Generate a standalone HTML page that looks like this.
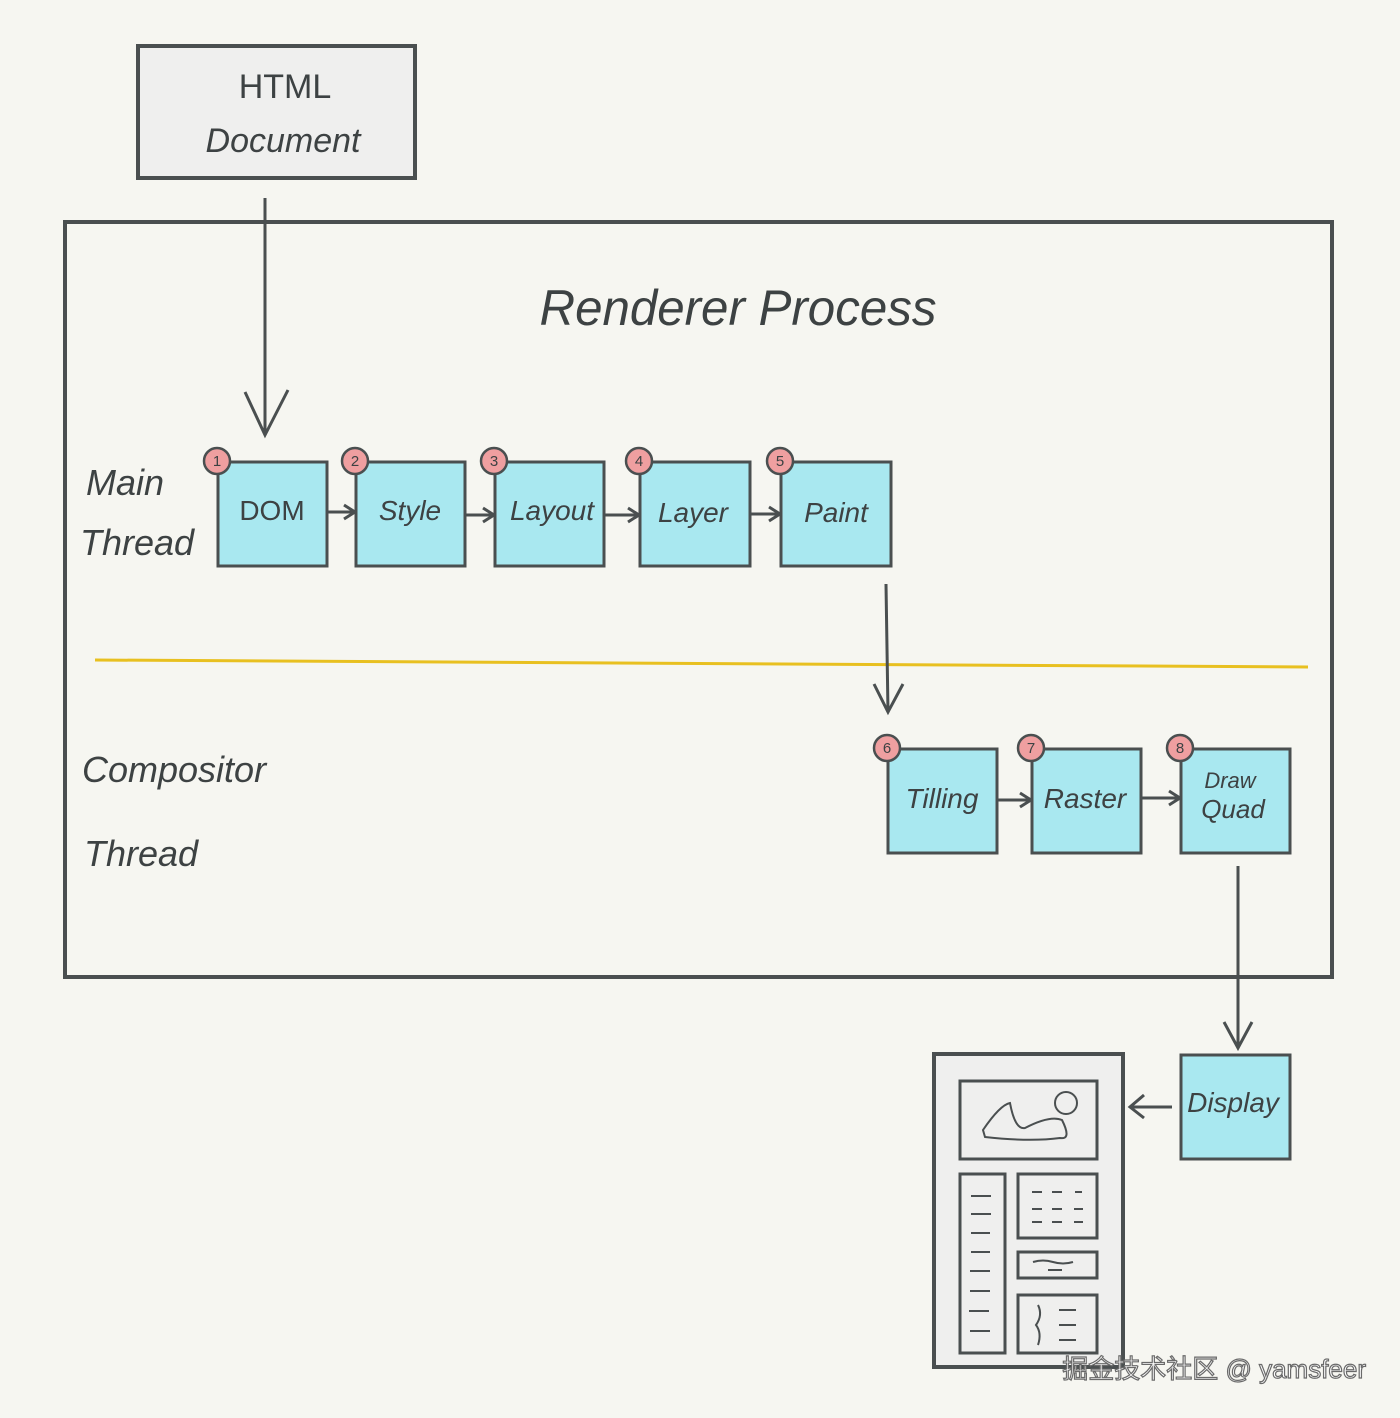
<!DOCTYPE html>
<html><head><meta charset="utf-8"><style>
html,body{margin:0;padding:0;background:#f6f6f1;}
svg{display:block;}
text{font-family:"Liberation Sans","DejaVu Sans",sans-serif;fill:#3d4243;}
</style></head><body>
<svg width="1400" height="1418" viewBox="0 0 1400 1418" xmlns="http://www.w3.org/2000/svg">
<rect width="1400" height="1418" fill="#f6f6f1"/>
<defs>
<marker id="ah" markerWidth="16" markerHeight="18" refX="13" refY="9" orient="auto" markerUnits="userSpaceOnUse">
<path d="M2,2 L13,9 L2,16" fill="none" stroke="#4a4f50" stroke-width="3"/>
</marker>
</defs>
<g stroke="#4a4f50" stroke-width="3" fill="none">
<rect x="138" y="46" width="277" height="132" fill="#efefee" stroke-width="4"/>
<rect x="65" y="222" width="1267" height="755" stroke-width="4"/>
<line x1="265" y1="198" x2="265" y2="435"/>
<path d="M245,392 L265,435 L288,390" stroke-width="3"/>
<line x1="95" y1="660" x2="1308" y2="667" stroke="#e8c020" stroke-width="3"/>
<line x1="886" y1="584" x2="888" y2="712"/>
<path d="M874,684 L888,712 L903,684"/>
<line x1="1238" y1="866" x2="1238" y2="1048"/>
<path d="M1224,1022 L1238,1048 L1252,1022"/>
<line x1="1172" y1="1107" x2="1132" y2="1107"/>
<path d="M1144,1095 L1130,1107 L1144,1118"/>
<line x1="328" y1="512" x2="355" y2="512" marker-end="url(#ah)"/>
<line x1="466" y1="515" x2="494" y2="515" marker-end="url(#ah)"/>
<line x1="605" y1="515" x2="639" y2="515" marker-end="url(#ah)"/>
<line x1="751" y1="514" x2="780" y2="514" marker-end="url(#ah)"/>
<line x1="998" y1="800" x2="1031" y2="800" marker-end="url(#ah)"/>
<line x1="1142" y1="798" x2="1180" y2="798" marker-end="url(#ah)"/>
</g>
<g stroke="#4a4f50" stroke-width="3" fill="#a9e8f0">
<rect x="218" y="462" width="109" height="104"/>
<rect x="356" y="462" width="109" height="104"/>
<rect x="495" y="462" width="109" height="104"/>
<rect x="640" y="462" width="110" height="104"/>
<rect x="781" y="462" width="110" height="104"/>
<rect x="888" y="749" width="109" height="104"/>
<rect x="1032" y="749" width="109" height="104"/>
<rect x="1181" y="749" width="109" height="104"/>
<rect x="1181" y="1055" width="109" height="104"/>
</g>
<g stroke="#4a4f50" stroke-width="2.5" fill="#ef9fa0">
<circle cx="217" cy="461" r="13"/><circle cx="355" cy="461" r="13"/><circle cx="494" cy="461" r="13"/>
<circle cx="639" cy="461" r="13"/><circle cx="780" cy="461" r="13"/><circle cx="887" cy="748" r="13"/>
<circle cx="1031" cy="748" r="13"/><circle cx="1180" cy="748" r="13"/>
</g>
<g font-size="15" text-anchor="middle">
<text x="217" y="466">1</text><text x="355" y="466">2</text><text x="494" y="466">3</text><text x="639" y="466">4</text>
<text x="780" y="466">5</text><text x="887" y="753">6</text><text x="1031" y="753">7</text><text x="1180" y="753">8</text>
</g>
<g stroke="#4a4f50" stroke-width="3" fill="#efefee">
<rect x="934" y="1054" width="189" height="313" stroke-width="4"/>
<rect x="960" y="1081" width="137" height="78"/>
<rect x="960" y="1174" width="45" height="179"/>
<rect x="1018" y="1174" width="79" height="64"/>
<rect x="1018" y="1252" width="79" height="26"/>
<rect x="1018" y="1295" width="79" height="58"/>
</g>
<g stroke="#4a4f50" stroke-width="2" fill="none">
<path d="M983,1130 Q1000,1105 1010,1103 Q1015,1130 1025,1128 Q1050,1115 1062,1120 Q1072,1140 1060,1138 Q1030,1142 985,1137 Z"/>
<circle cx="1066" cy="1103" r="11"/>
<path d="M971,1196h20M971,1214h20M971,1233h19M971,1252h19M970,1271h20M970,1291h20M969,1311h20M970,1331h20"/>
<path d="M1032,1192h10M1052,1192h10M1075,1192h7M1032,1209h10M1052,1209h10M1074,1209h9M1032,1222h10M1052,1222h10M1074,1222h9"/>
<path d="M1033,1262 q10,-3 20,0 q10,3 20,0M1048,1270h14"/>
<path d="M1038,1305 q5,10 -2,20 q6,8 2,20M1059,1310h17M1059,1325h17M1059,1340h17"/>
</g>
<g font-style="italic">
<text x="285" y="98" font-size="34" text-anchor="middle" font-style="normal">HTML</text>
<text x="283" y="152" font-size="34" text-anchor="middle">Document</text>
<text x="738" y="325" font-size="50" text-anchor="middle" textLength="397" lengthAdjust="spacingAndGlyphs">Renderer  Process</text>
<text x="86" y="495" font-size="36">Main</text>
<text x="80" y="555" font-size="36">Thread</text>
<text x="82" y="782" font-size="36">Compositor</text>
<text x="84" y="866" font-size="36">Thread</text>
<g font-size="28" text-anchor="middle">
<text x="272" y="520" font-style="normal">DOM</text>
<text x="410" y="520">Style</text>
<text x="552" y="520">Layout</text>
<text x="693" y="522">Layer</text>
<text x="836" y="522">Paint</text>
<text x="942" y="808">Tilling</text>
<text x="1085" y="808">Raster</text>
<text x="1233" y="1112">Display</text>
</g>
<text x="1230" y="788" font-size="22" text-anchor="middle">Draw</text>
<text x="1233" y="818" font-size="26" text-anchor="middle">Quad</text>
</g>
<text x="1366" y="1378" font-size="26" text-anchor="end" style="font-family:'Liberation Sans','Noto Sans CJK SC',sans-serif;fill:#ffffff;stroke:#6a6a6a;stroke-width:1.2">掘金技术社区 @ yamsfeer</text>
</svg>
</body></html>
